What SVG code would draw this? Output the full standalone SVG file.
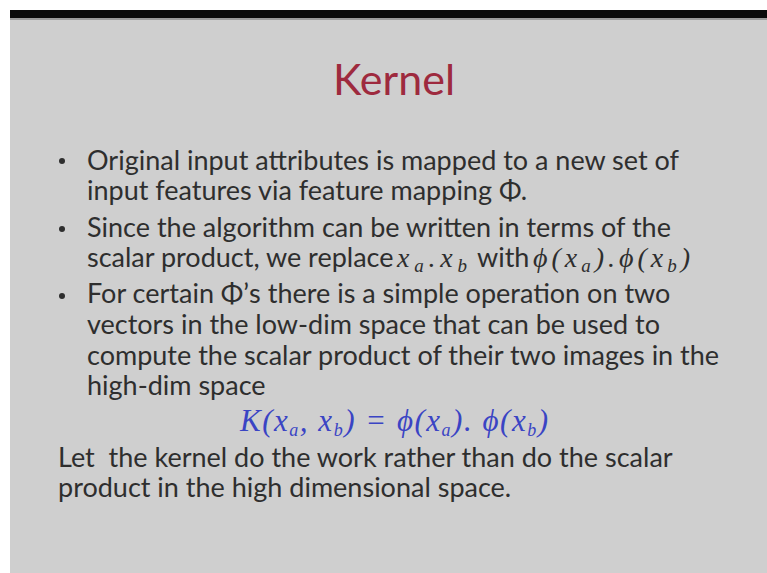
<svg xmlns="http://www.w3.org/2000/svg" width="767" height="573" viewBox="0 0 767 573">
<style>
.body{font-family:Lato,"Open Sans","Liberation Sans",sans-serif;font-size:27px;fill:#2e2e2e;white-space:pre}
.math{font-family:"Liberation Serif","DejaVu Serif",serif;font-style:italic;font-size:28px}
.sub{font-size:19px}
.fsub{font-size:18px}
.title{font-family:Lato,"Open Sans","Liberation Sans",sans-serif;font-size:43px;fill:#9e2a3e}
.formula{font-family:"Liberation Serif","DejaVu Serif",serif;font-style:italic;font-size:31px;fill:#3a44c4}
</style>
<rect x="0" y="0" width="767" height="573" fill="#ffffff"/>
<rect x="10" y="18" width="757" height="555" fill="#cfcfcf"/>
<rect x="10" y="10" width="757" height="8" fill="#0a0a0a"/>
<rect x="10" y="18" width="757" height="2" fill="#9a9a9a"/>
<g id="title"><text class="title" x="394" y="95" text-anchor="middle">Kernel</text></g>
<g id="bullets">
<circle cx="62" cy="161" r="3" fill="#2e2e2e"/>
<circle cx="62" cy="229" r="3" fill="#2e2e2e"/>
<circle cx="62" cy="296" r="3" fill="#2e2e2e"/>
<text class="body" x="87" y="170">Original input attributes is mapped to a new set of</text>
<text class="body" x="87" y="200">input features via feature mapping Φ.</text>
<text class="body" x="87" y="237">Since the algorithm can be written in terms of the</text>
<text class="body" x="87" y="267">scalar product, we replace</text>
<text class="body math" x="397" y="267" textLength="70" lengthAdjust="spacing">x<tspan class="sub" dy="5">a</tspan><tspan dy="-5">.x</tspan><tspan class="sub" dy="5">b</tspan></text>
<text class="body" x="477" y="267">with</text>
<text class="body math" x="533" y="267" textLength="157" lengthAdjust="spacing">ϕ(x<tspan class="sub" dy="5">a</tspan><tspan dy="-5">).ϕ(x</tspan><tspan class="sub" dy="5">b</tspan><tspan dy="-5">)</tspan></text>
<text class="body" x="87" y="303">For certain Φ’s there is a simple operation on two</text>
<text class="body" x="87" y="334">vectors in the low-dim space that can be used to</text>
<text class="body" x="87" y="365">compute the scalar product of their two images in the</text>
<text class="body" x="87" y="395">high-dim space</text>
</g>
<g id="formula"><text class="formula" x="240" y="431" textLength="308" lengthAdjust="spacing">K(x<tspan class="fsub" dy="5">a</tspan><tspan dy="-5">, x</tspan><tspan class="fsub" dy="5">b</tspan><tspan dy="-5">) = ϕ(x</tspan><tspan class="fsub" dy="5">a</tspan><tspan dy="-5">). ϕ(x</tspan><tspan class="fsub" dy="5">b</tspan><tspan dy="-5">)</tspan></text></g>
<g id="conclusion">
<text class="body" x="58" y="467">Let  the kernel do the work rather than do the scalar</text>
<text class="body" x="58" y="497">product in the high dimensional space.</text>
</g>
</svg>
